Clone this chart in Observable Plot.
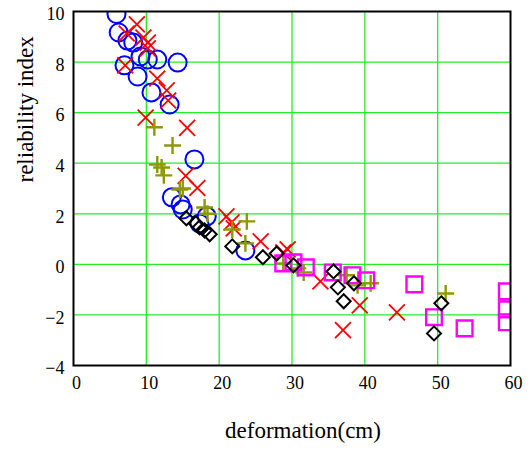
<!DOCTYPE html>
<html>
<head>
<meta charset="utf-8">
<script src="https://cdn.jsdelivr.net/npm/d3@7"></script>
<script src="https://cdn.jsdelivr.net/npm/@observablehq/plot@0.6"></script>
<style>
  html, body { margin: 0; padding: 0; background: #fff; }
  #chart { width: 530px; height: 450px; }
  #chart svg text { font-family: "Liberation Serif", "Times New Roman", serif; }
</style>
</head>
<body>
<div id="chart"></div>
<script>
// ---- data ----
const circleX = [5.9, 6.2, 7.4, 8.2, 9.2, 10.2, 11.5, 14.3, 7.0, 8.8, 10.7, 13.2, 16.6, 13.5, 14.7, 15.0, 18.3, 17.3, 23.6];
const circleY = [9.9, 9.17, 8.85, 8.77, 8.22, 8.1, 8.1, 7.98, 7.87, 7.43, 6.8, 6.32, 4.15, 2.65, 2.37, 2.17, 1.9, 1.62, 0.55];

const timesX = [8.7, 7.3, 10.2, 10.2, 9.6, 7.1, 11.5, 12.8, 13.0, 9.9, 15.6, 15.4, 17.0, 21.0, 21.7, 22.0, 25.7, 28.8, 29.4, 33.9, 37.0, 39.3, 44.4];
const timesY = [9.49, 9.13, 8.77, 8.54, 8.97, 7.87, 7.35, 6.88, 6.48, 5.8, 5.4, 3.5, 3.02, 1.9, 1.66, 1.42, 0.91, 0.47, 0.59, -0.67, -2.6, -1.62, -1.9];

const plusX = [11.1, 13.6, 11.5, 12.1, 12.4, 14.6, 15.0, 18.0, 18.4, 23.8, 21.8, 23.6, 28.8, 30.8, 31.6, 37.5, 39.0, 40.8, 51.1];
const plusY = [5.42, 4.7, 3.95, 3.83, 3.52, 2.96, 3.0, 2.25, 2.0, 1.7, 1.38, 0.83, 0.04, -0.16, -0.32, -0.43, -0.83, -0.75, -1.15];

const diamondX = [15.5, 16.8, 17.3, 18.0, 18.7, 21.8, 26.0, 27.9, 30.2, 35.7, 36.3, 38.5, 37.1, 50.5, 49.5];
const diamondY = [1.82, 1.62, 1.46, 1.34, 1.19, 0.71, 0.28, 0.43, -0.04, -0.28, -0.91, -0.75, -1.46, -1.54, -2.73];

const squareX = [28.8, 30.2, 31.9, 35.6, 38.3, 40.2, 46.8, 49.5, 53.7, 59.5, 59.5, 59.5];
const squareY = [0.04, 0.08, -0.12, -0.32, -0.43, -0.63, -0.79, -2.09, -2.53, -1.07, -1.78, -2.29];

const xTicks = [0, 10, 20, 30, 40, 50, 60];
const yTicks = [-4, -2, 0, 2, 4, 6, 8, 10];
const xGrid = [10, 20, 30, 40, 50];
const yGrid = [-2, 0, 2, 4, 6, 8];
const xLabel = "deformation(cm)";
const yLabel = "reliability index";

const pts = (xs, ys) => xs.map((x, i) => ({x, y: ys[i]}));
const fmt = d => d < 0 ? "\u2212" + Math.abs(d) : String(d);
const serif = "Liberation Serif, Times New Roman, serif";

const chart = Plot.plot({
  width: 530,
  height: 450,
  marginLeft: 73,
  marginRight: 20,
  marginTop: 11,
  marginBottom: 85,
  style: {fontFamily: serif, background: "white"},
  x: {domain: [0, 60]},
  y: {domain: [-4, 10]},
  marks: [
    Plot.gridX(xGrid, {stroke: "#22ee22", strokeOpacity: 1, strokeWidth: 1.3}),
    Plot.gridY(yGrid, {stroke: "#22ee22", strokeOpacity: 1, strokeWidth: 1.3}),
    Plot.axisX(xTicks, {tickSize: 0, tickPadding: 11, fontSize: 18, fontFamily: serif, tickFormat: fmt, label: null, fill: "black", dx: 3}),
    Plot.axisY(yTicks, {tickSize: 0, tickPadding: 9, fontSize: 18, fontFamily: serif, tickFormat: fmt, label: null, fill: "black", dy: 3}),
    Plot.dot(pts(circleX, circleY), {x: "x", y: "y", r: 9, symbol: "circle", stroke: "#0000ff", strokeWidth: 2, clip: true}),
    Plot.dot(pts(timesX, timesY), {x: "x", y: "y", r: 7.3, symbol: "times", stroke: "#ff0000", strokeWidth: 1.8, clip: true}),
    Plot.dot(pts(plusX, plusY), {x: "x", y: "y", r: 5.5, symbol: "plus", stroke: "#8c9900", strokeWidth: 2.4, clip: true}),
    Plot.dot(pts(squareX, squareY), {x: "x", y: "y", r: 10, symbol: "square2", stroke: "#ff00ff", strokeWidth: 2.4, clip: true}),
    Plot.dot(pts(diamondX, diamondY), {x: "x", y: "y", r: 6.3, symbol: "diamond2", stroke: "#000000", strokeWidth: 2, clip: true}),
    Plot.frame({stroke: "black", strokeWidth: 2}),
    Plot.text([xLabel], {frameAnchor: "bottom", dx: 11, dy: 72, fontSize: 23, fontFamily: serif, fill: "black"}),
    Plot.text([yLabel], {frameAnchor: "left", dx: -48, dy: -6, rotate: -90, fontSize: 23, fontFamily: serif, fill: "black"})
  ]
});
document.getElementById("chart").appendChild(chart);
</script>
</body>
</html>
